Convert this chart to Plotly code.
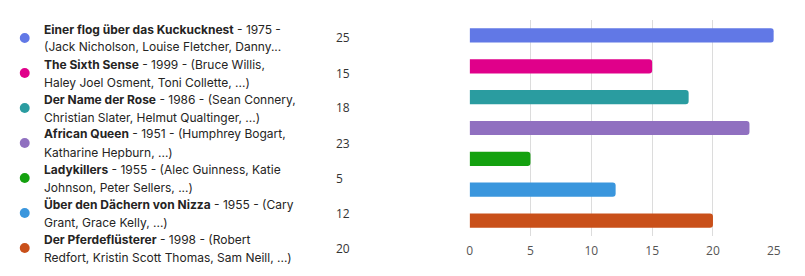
import plotly.graph_objects as go

W, H = 805, 276

titles = ["Einer flog über das Kuckucknest", "The Sixth Sense", "Der Name der Rose",
          "African Queen", "Ladykillers", "Über den Dächern von Nizza", "Der Pferdeflüsterer"]
line1_rest = [" - 1975 -", " - 1999 - (Bruce Willis,", " - 1986 - (Sean Connery,",
              " - 1951 - (Humphrey Bogart,", " - 1955 - (Alec Guinness, Katie",
              " - 1955 - (Cary", " - 1998 - (Robert"]
line2 = ["(Jack Nicholson, Louise Fletcher, Danny...", "Haley Joel Osment, Toni Collette, ...)",
         "Christian Slater, Helmut Qualtinger, ...)", "Katharine Hepburn, ...)",
         "Johnson, Peter Sellers, ...)", "Grant, Grace Kelly, ...)",
         "Redfort, Kristin Scott Thomas, Sam Neill, ...)"]
values = [25, 15, 18, 23, 5, 12, 20]
colors = ["#6178E6", "#E0008A", "#2A9CA0", "#9070C0", "#14A10F", "#3A96DD", "#C9501A"]
xticks = [0, 5, 10, 15, 20, 25]

FONT = "Inter, Open Sans, sans-serif"
NUMFONT = "Open Sans, sans-serif"

fig = go.Figure(go.Bar(
    x=values, y=titles, orientation="h", marker=dict(color=colors, line=dict(width=0)),
    hoverinfo="skip",
))

def py(ypix):
    return 1 - ypix / H

fig.update_layout(
    width=W, height=H, margin=dict(l=0, r=0, t=0, b=0),
    paper_bgcolor="white", plot_bgcolor="white",
    bargap=0.54, barcornerradius=3, showlegend=False,
    font=dict(family=FONT),
    xaxis=dict(domain=[472.5 / W, 780.5 / W], range=[0, 25], tickvals=xticks,
               showgrid=True, gridcolor="#DCDCDC", gridwidth=1, zeroline=False,
               showline=False, ticks="", tickfont=dict(size=12, color="#555555", family=NUMFONT),
               ticklabelstandoff=6),
    yaxis=dict(domain=[py(236), py(20)], autorange="reversed", showticklabels=False,
               showgrid=False, zeroline=False, showline=False, ticks=""),
)

annotations = []
shapes = []
for i in range(len(titles)):
    c = 38 + 35 * i
    annotations.append(dict(xref="paper", yref="paper", x=40 / W, y=py(c - 9),
                            xanchor="left", yanchor="middle", showarrow=False, borderpad=0,
                            text=f"<b>{titles[i]}</b>{line1_rest[i]}",
                            font=dict(size=12, color="#252423", family=FONT)))
    annotations.append(dict(xref="paper", yref="paper", x=40 / W, y=py(c + 9),
                            xanchor="left", yanchor="middle", showarrow=False, borderpad=0,
                            text=line2[i], font=dict(size=12, color="#252423", family=FONT)))
    annotations.append(dict(xref="paper", yref="paper", x=336 / W, y=py(c),
                            xanchor="left", yanchor="middle", showarrow=False, borderpad=0,
                            text=str(values[i]), font=dict(size=12, color="#333333", family=NUMFONT)))
    shapes.append(dict(type="circle", xref="paper", yref="paper",
                       x0=17 / W, x1=27 / W, y0=py(c + 5), y1=py(c - 5),
                       fillcolor=colors[i], line=dict(width=0)))

fig.update_layout(annotations=annotations, shapes=shapes)
fig.write_html("out.html")
